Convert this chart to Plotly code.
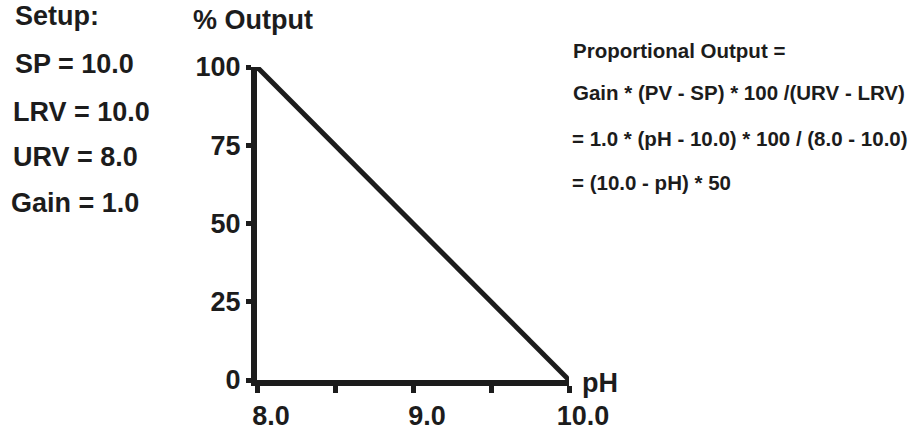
import plotly.graph_objects as go

# Proportional controller response: output (%) versus pH
ph = [8.0, 10.0]
output_pct = [100, 0]

x_tickvals = [8.0, 8.5, 9.0, 9.5, 10.0]
x_ticktext = ["8.0", "", "9.0", "", "10.0"]
y_tickvals = [0, 25, 50, 75, 100]
y_ticktext = ["0", "25", "50", "75", "100"]

setup_lines = ["Setup:", "SP = 10.0", "LRV = 10.0", "URV = 8.0", "Gain = 1.0"]
formula_lines = [
    "Proportional Output =",
    "Gain * (PV - SP) * 100 /(URV - LRV)",
    "= 1.0 * (pH - 10.0) * 100 / (8.0 - 10.0)",
    "= (10.0 - pH) * 50",
]

W_PX, H_PX = 922, 432
L, R, T, B = 257, 353, 67, 52
PW, PH = W_PX - L - R, H_PX - T - B
INK = "#1c1c1c"
FONT = "Liberation Sans"


def px(x):
    return (x - L) / PW


def py(y):
    return 1 - (y - T) / PH


fig = go.Figure()
fig.add_trace(go.Scatter(
    x=ph, y=output_pct, mode="lines",
    line=dict(color=INK, width=5),
    cliponaxis=False, showlegend=False, hoverinfo="skip",
))

fig.update_layout(
    width=W_PX, height=H_PX,
    margin=dict(l=L, r=R, t=T, b=B, pad=0, autoexpand=False),
    paper_bgcolor="white", plot_bgcolor="white",
    showlegend=False,
)

fig.update_xaxes(
    range=[8.0, 10.0], showgrid=False, zeroline=False, automargin=False,
    showline=True, linewidth=6, linecolor=INK,
    tickmode="array", tickvals=x_tickvals, ticktext=x_ticktext,
    ticks="outside", ticklen=7, tickwidth=5, tickcolor=INK,
    tickfont=dict(family=FONT, size=27, color=INK, weight="bold"),
    ticklabelshift=14, ticklabelstandoff=0,
)
fig.update_yaxes(
    range=[0, 100], showgrid=False, zeroline=False, automargin=False,
    showline=True, linewidth=6, linecolor=INK,
    tickmode="array", tickvals=y_tickvals, ticktext=y_ticktext,
    ticks="outside", ticklen=5, tickwidth=5, tickcolor=INK,
    tickfont=dict(family=FONT, size=27, color=INK, weight="bold"),
    ticklabelstandoff=0,
)

annotations = []
# setup parameters on the left
setup_pos = [(13, 16), (13, 64), (11, 112), (11, 157), (9, 203)]
for text, (x, y) in zip(setup_lines, setup_pos):
    annotations.append(dict(
        text=f"<b>{text}</b>", x=px(x), y=py(y), xref="paper", yref="paper",
        xanchor="left", yanchor="middle", showarrow=False,
        font=dict(family=FONT, size=27, color=INK),
    ))

# axis titles
annotations.append(dict(
    text="<b>% Output</b>", x=px(191), y=py(20), xref="paper", yref="paper",
    xanchor="left", yanchor="middle", showarrow=False,
    font=dict(family=FONT, size=27, color=INK),
))
annotations.append(dict(
    text="<b>pH</b>", x=px(580), y=py(383), xref="paper", yref="paper",
    xanchor="left", yanchor="middle", showarrow=False,
    font=dict(family=FONT, size=27, color=INK),
))

# formula text on the right
formula_pos = [(571, 50), (571, 93), (570, 138), (570, 183)]
for text, (x, y) in zip(formula_lines, formula_pos):
    annotations.append(dict(
        text=f"<b>{text}</b>", x=px(x), y=py(y), xref="paper", yref="paper",
        xanchor="left", yanchor="middle", showarrow=False,
        font=dict(family=FONT, size=20.5, color=INK),
    ))

fig.update_layout(annotations=annotations)
fig.write_html("out.html")
